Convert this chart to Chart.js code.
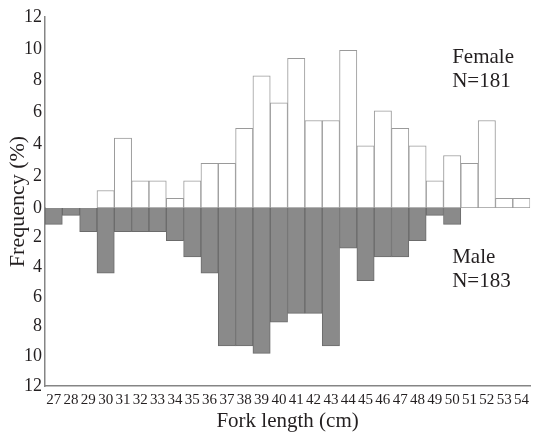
<!DOCTYPE html>
<html>
<head>
<meta charset="utf-8">
<script src="https://cdn.jsdelivr.net/npm/chart.js@4.4.0/dist/chart.umd.min.js"></script>
<style>
    html, body { margin: 0; padding: 0; background: #fff; }
    #wrap { width: 534px; height: 436px; }
</style>
</head>
<body>
<div id="wrap"><canvas id="chart01"></canvas></div>
<script>
// fork length classes (cm)
const forkLength = ['27', '28', '29', '30', '31', '32', '33', '34', '35', '36', '37', '38', '39', '40',
    '41', '42', '43', '44', '45', '46', '47', '48', '49', '50', '51', '52', '53', '54'];
// frequency (%)
const female = [0, 0, 0, 1.1, 4.4, 1.7, 1.7, 0.6, 1.7, 2.8, 2.8, 5.0, 8.3, 6.6,
    9.4, 5.5, 5.5, 9.9, 3.9, 6.1, 5.0, 3.9, 1.7, 3.3, 2.8, 5.5, 0.6, 0.6];
const male = [1.1, 0.5, 1.6, 4.4, 1.6, 1.6, 1.6, 2.2, 3.3, 4.4, 9.3, 9.3, 9.8, 7.7,
    7.1, 7.1, 9.3, 2.7, 4.9, 3.3, 3.3, 2.2, 0.5, 1.1, 0, 0, 0, 0];
const freqMax = 12;
const freqStep = 2;
const femaleText = ['Female', 'N=181'];
const maleText = ['Male', 'N=183'];

const serif = '"Liberation Serif", "Times New Roman", serif';
const ink = '#231f20';
const axisGray = '#858585';

const sideText = {
    id: 'sideText',
    afterDraw(chart) {
        const { ctx, chartArea } = chart;
        const zero = chart.scales.yF.bottom;
        const x = chart.scales.x.getPixelForValue(23);
        ctx.save();
        ctx.fillStyle = ink;
        ctx.font = '21px ' + serif;
        ctx.textAlign = 'left';
        ctx.textBaseline = 'alphabetic';
        ctx.fillText(femaleText[0], x, chartArea.top + 46);
        ctx.fillText(femaleText[1], x, chartArea.top + 70);
        ctx.fillText(maleText[0], x, zero + 55);
        ctx.fillText(maleText[1], x, zero + 79);

        // y title spans both halves
        ctx.translate(18, (chartArea.top + chartArea.bottom) / 2);
        ctx.rotate(-Math.PI / 2);
        ctx.textAlign = 'center';
        ctx.textBaseline = 'middle';
        ctx.font = '22px ' + serif;
        ctx.fillText('Frequency (%)', 0, 0);
        ctx.restore();
    }
};

function yAxis(weight, stackWeight, reverse) {
    return {
        type: 'linear',
        position: 'left',
        stack: 'freq',
        stackWeight: stackWeight,
        weight: weight,
        reverse: reverse,
        min: 0,
        max: freqMax,
        grid: { display: false, drawTicks: false },
        border: { color: axisGray, width: 1.5 },
        ticks: {
            stepSize: freqStep,
            autoSkip: false,
            padding: 3,
            color: ink,
            font: { family: serif, size: 18 },
            callback: (v) => (reverse && v === 0 ? '' : v)
        },
        afterFit(scale) {
            scale.width = 45;
        }
    };
}

const ctx01 = document.getElementById('chart01');
const mainChart = new Chart(ctx01, {
    type: 'bar',
    data: {
        labels: forkLength,
        datasets: [{
            label: 'Male',
            data: male,
            yAxisID: 'yM',
            backgroundColor: '#8a8a8a',
            borderColor: '#6b6b6b',
            borderWidth: 1,
            grouped: false,
            barPercentage: 1,
            categoryPercentage: 1
        }, {
            label: 'Female',
            data: female,
            yAxisID: 'yF',
            backgroundColor: '#ffffff',
            borderColor: '#9a9a9a',
            borderWidth: 1,
            borderSkipped: false,
            grouped: false,
            barPercentage: 1,
            categoryPercentage: 1
        }]
    },
    options: {
        responsive: true,
        maintainAspectRatio: false,
        animation: false,
        layout: { padding: { top: 17, right: 2, left: 0, bottom: 0 } },
        plugins: {
            legend: { display: false },
            tooltip: { enabled: false }
        },
        scales: {
            x: {
                grid: { display: false, drawTicks: false },
                border: { color: axisGray, width: 1.5 },
                ticks: {
                    autoSkip: false,
                    maxRotation: 0,
                    padding: 5,
                    color: ink,
                    font: { family: serif, size: 15 }
                },
                title: {
                    display: true,
                    text: 'Fork length (cm)',
                    color: ink,
                    font: { family: serif, size: 21, lineHeight: 1 },
                    padding: { top: 2, bottom: 4 }
                },
                afterFit(scale) {
                    scale.height = 50;
                }
            },
            yF: yAxis(1, 191, false),
            yM: yAxis(0, 178, true)
        }
    },
    plugins: [sideText]
});
</script>
</body>
</html>
